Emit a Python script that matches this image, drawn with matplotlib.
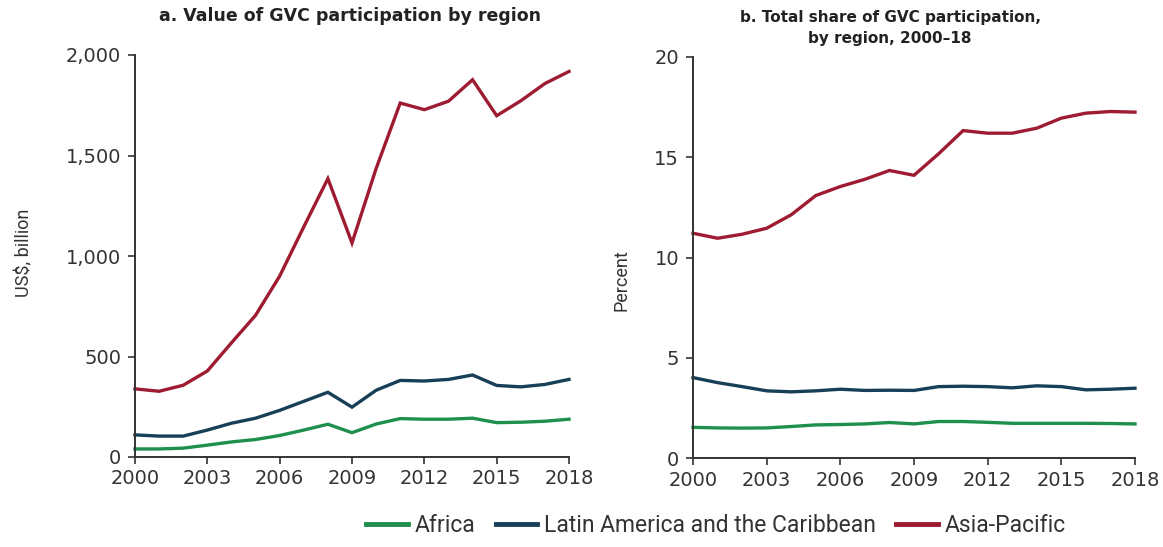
import matplotlib
matplotlib.use("Agg")
import matplotlib.pyplot as plt
from matplotlib.lines import Line2D

years = list(range(2000, 2019))

# Panel a: value of GVC participation, US$ billion
africa_val = [40, 40, 44, 59, 75, 87, 107, 134, 163, 121, 164, 191, 188, 188, 193, 171, 173, 178, 188]
latam_val = [110, 104, 104, 134, 168, 193, 232, 277, 322, 248, 332, 381, 378, 386, 408, 356, 349, 361, 386]
asia_val = [339, 327, 357, 428, 568, 705, 900, 1145, 1385, 1065, 1435, 1761, 1728, 1770, 1877, 1698, 1772, 1858, 1918]

# Panel b: total share of GVC participation, percent
africa_pct = [1.53, 1.50, 1.49, 1.50, 1.57, 1.65, 1.67, 1.70, 1.77, 1.70, 1.82, 1.82, 1.78, 1.73, 1.73, 1.73, 1.73, 1.72, 1.70]
latam_pct = [4.01, 3.76, 3.56, 3.35, 3.30, 3.35, 3.43, 3.37, 3.38, 3.37, 3.56, 3.58, 3.56, 3.50, 3.60, 3.56, 3.40, 3.43, 3.48]
asia_pct = [11.21, 10.96, 11.16, 11.46, 12.13, 13.09, 13.54, 13.90, 14.34, 14.10, 15.17, 16.33, 16.20, 16.20, 16.45, 16.95, 17.20, 17.28, 17.25]

xticks = [2000, 2003, 2006, 2009, 2012, 2015, 2018]
series_names = ["Africa", "Latin America and the Caribbean", "Asia-Pacific"]
colors = ["#1f8f4e", "#173f58", "#9e1b32"]

plt.rcParams['font.family'] = ['DejaVu Sans']
narrow = ['Roboto', 'DejaVu Sans']

W, H = 1163, 547
fig = plt.figure(figsize=(W / 100, H / 100), dpi=100)

def ax_rect(x0, x1, ytop, ybot):
    return [x0 / W, 1 - ybot / H, (x1 - x0) / W, (ybot - ytop) / H]

axA = fig.add_axes(ax_rect(135, 569, 55, 457))
axB = fig.add_axes(ax_rect(693, 1135, 57, 458))

TXT = "#333333"

def style(ax, ylim, yticks, ylabels):
    ax.set_xlim(2000, 2018)
    ax.set_ylim(*ylim)
    ax.set_xticks(xticks)
    ax.set_xticklabels([str(t) for t in xticks], fontsize=14, color=TXT)
    ax.set_yticks(yticks)
    ax.set_yticklabels(ylabels, fontsize=14, color=TXT)
    for s in ["top", "right"]:
        ax.spines[s].set_visible(False)
    for s in ["left", "bottom"]:
        ax.spines[s].set_color(TXT)
        ax.spines[s].set_linewidth(1.4)
    ax.tick_params(axis="both", direction="out", length=5, width=1.2, colors=TXT)
    ax.tick_params(axis="x", pad=4)
    ax.tick_params(axis="y", pad=5)

for ax, data in [(axA, [africa_val, latam_val, asia_val]),
                 (axB, [africa_pct, latam_pct, asia_pct])]:
    for vals, c in zip(data, colors):
        ax.plot(years, vals, color=c, lw=2.4, clip_on=False, solid_joinstyle="miter")

style(axA, (0, 2000), [0, 500, 1000, 1500, 2000], ["0", "500", "1,000", "1,500", "2,000"])
style(axB, (0, 20), [0, 5, 10, 15, 20], ["0", "5", "10", "15", "20"])

fig.text(24 / W, 1 - 253 / H, "US$, billion", rotation=90, ha="center", va="center",
         fontsize=13, color=TXT, family=narrow)
fig.text(622 / W, 1 - 280 / H, "Percent", rotation=90, ha="center", va="center",
         fontsize=13, color=TXT, family=narrow)

fig.text(350 / W, 1 - 16 / H, "a. Value of GVC participation by region",
         ha="center", va="center", fontsize=12.5, fontweight="bold", color="#222222")
fig.text(890 / W, 1 - 28 / H, "b. Total share of GVC participation,\nby region, 2000\u201318",
         ha="center", va="center", fontsize=11, fontweight="bold", color="#222222",
         linespacing=1.45)

handles = [Line2D([0], [0], color=c, lw=3.5) for c in colors]
fig.legend(handles, series_names, loc="center", bbox_to_anchor=(716 / W, 1 - 526 / H),
           ncol=3, frameon=False, handlelength=1.8, columnspacing=0.9,
           handletextpad=0.3, labelcolor=TXT,
           prop={'family': narrow, 'size': 16.5})

fig.savefig("out.png", dpi=100)
